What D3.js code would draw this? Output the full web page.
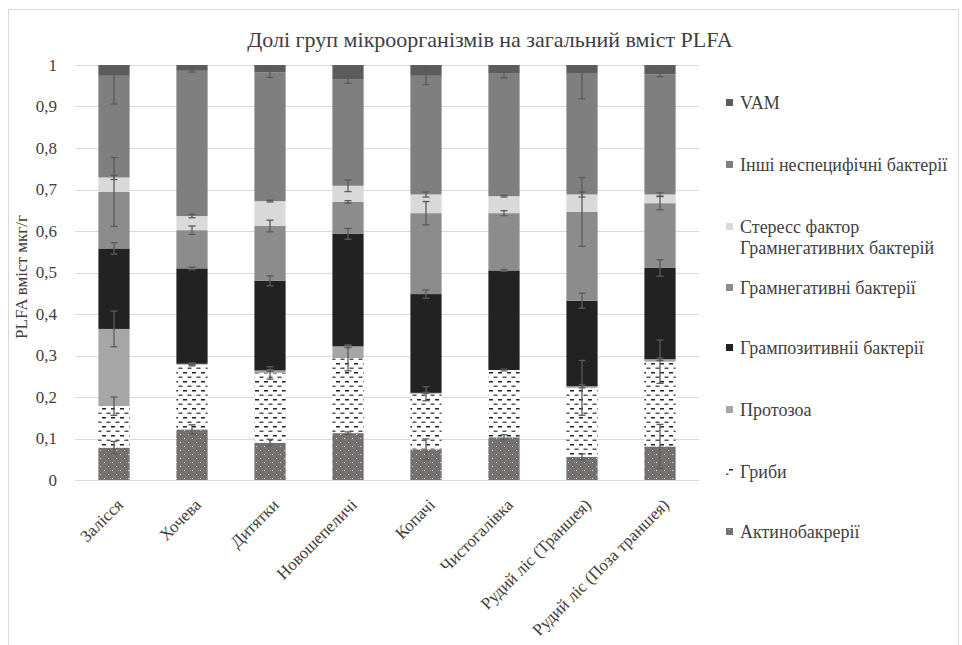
<!DOCTYPE html>
<html>
<head>
<meta charset="utf-8">
<script src="https://cdn.jsdelivr.net/npm/d3@7"></script>
<style>
  body { margin: 0; background: #fff; }
</style>
</head>
<body>
<div class="chart"></div>
<script>
// categories (sites)
var sites = ["Залісся", "Хочева", "Дитятки", "Новошепеличі", "Копачі",
    "Чистогалівка", "Рудий ліс (Траншея)", "Рудий ліс (Поза траншея)"];

// share of each group, bottom to top
var actino   = [0.078, 0.122, 0.090, 0.113, 0.074, 0.103, 0.056, 0.081];
var fungi    = [0.100, 0.156, 0.168, 0.181, 0.134, 0.162, 0.166, 0.204];
var protozoa = [0.186, 0.002, 0.006, 0.028, 0.002, 0.000, 0.004, 0.006];
var gramPos  = [0.194, 0.230, 0.216, 0.271, 0.238, 0.240, 0.206, 0.220];
var gramNeg  = [0.136, 0.092, 0.132, 0.077, 0.195, 0.138, 0.214, 0.156];
var stress   = [0.035, 0.034, 0.060, 0.039, 0.045, 0.041, 0.042, 0.021];
var others   = [0.245, 0.350, 0.310, 0.257, 0.286, 0.295, 0.291, 0.289];
var vam      = [0.026, 0.014, 0.018, 0.034, 0.026, 0.021, 0.021, 0.023];

// error (+/-) shown at the top of each segment
var actinoErr   = [0.015, 0.011, 0.008, 0.003, 0.025, 0.006, 0.007, 0.053];
var fungiErr    = [0.022, 0.003, 0.015, 0.031, 0.017, 0.002, 0.066, 0.052];
var protozoaErr = [0.043, 0.002, 0.002, 0.003, 0.001, 0.000, 0.004, 0.003];
var gramPosErr  = [0.014, 0.003, 0.012, 0.013, 0.010, 0.002, 0.018, 0.020];
var gramNegErr  = [0.083, 0.010, 0.014, 0.003, 0.028, 0.006, 0.083, 0.016];
var stressErr   = [0.005, 0.004, 0.002, 0.014, 0.006, 0.002, 0.006, 0.004];
var othersErr   = [0.068, 0.003, 0.012, 0.010, 0.021, 0.010, 0.060, 0.005];
var vamErr      = [0, 0, 0, 0, 0, 0, 0, 0];

var yTicks = [0, 0.1, 0.2, 0.3, 0.4, 0.5, 0.6, 0.7, 0.8, 0.9, 1];

var series = [
    { key: "actino",   name: "Актинобакрерії", values: actino, err: actinoErr, fill: "url(#dots)" },
    { key: "fungi",    name: "Гриби", values: fungi, err: fungiErr, fill: "url(#dashes)" },
    { key: "protozoa", name: "Протозоа", values: protozoa, err: protozoaErr, fill: "#a6a6a6" },
    { key: "gramPos",  name: "Грампозитивніі бактерії", values: gramPos, err: gramPosErr, fill: "#222222" },
    { key: "gramNeg",  name: "Грамнегативні бактерії", values: gramNeg, err: gramNegErr, fill: "#8c8c8c" },
    { key: "stress",   name: ["Стересс фактор", "Грамнегативних бактерій"], values: stress, err: stressErr, fill: "#d9d9d9" },
    { key: "others",   name: "Інші неспецифічні бактерії", values: others, err: othersErr, fill: "#7f7f7f" },
    { key: "vam",      name: "VAM", values: vam, err: vamErr, fill: "#5c5c5c" }
];

var serif = "'Liberation Serif', 'DejaVu Serif', 'Times New Roman', serif";

// SVG size, margin
var svgWidth = 962;
var svgHeight = 645;
var margin = { top: 65, right: 263, bottom: 165, left: 75 };
var width = svgWidth - margin.left - margin.right;
var height = svgHeight - margin.top - margin.bottom;

var svg = d3.select(".chart")
    .append("svg")
    .attr("width", svgWidth)
    .attr("height", svgHeight)
    .style("font-family", serif);

// patterns for the two hatched series
var defs = svg.append("defs");
var dots = defs.append("pattern")
    .attr("id", "dots")
    .attr("patternUnits", "userSpaceOnUse")
    .attr("width", 8).attr("height", 8);
dots.append("rect").attr("width", 8).attr("height", 8).attr("fill", "#767171");
dots.append("rect").attr("x", 1).attr("y", 1).attr("width", 1).attr("height", 1).attr("fill", "#d9d9d9");
dots.append("rect").attr("x", 5).attr("y", 5).attr("width", 1).attr("height", 1).attr("fill", "#d9d9d9");

var dashes = defs.append("pattern")
    .attr("id", "dashes")
    .attr("patternUnits", "userSpaceOnUse")
    .attr("width", 9).attr("height", 9);
dashes.append("rect").attr("width", 9).attr("height", 9).attr("fill", "#fff");
dashes.append("rect").attr("x", 0).attr("y", 1).attr("width", 4).attr("height", 1.5).attr("fill", "#222");
dashes.append("rect").attr("x", 4.5).attr("y", 5.5).attr("width", 4).attr("height", 1.5).attr("fill", "#555");

// chart border
svg.append("rect")
    .attr("x", 8.5).attr("y", 9.5)
    .attr("width", 950).attr("height", 650)
    .attr("fill", "none")
    .attr("stroke", "#d9d9d9");

var chartGroup = svg.append("g")
    .attr("transform", `translate(${margin.left}, ${margin.top})`);

// scales
var xBandScale = d3.scaleBand()
    .domain(sites)
    .range([0, width])
    .paddingInner(0.6)
    .paddingOuter(0.3);

var yLinearScale = d3.scaleLinear()
    .domain([0, 1])
    .range([height, 0]);

// gridlines
chartGroup.append("g")
    .selectAll("line")
    .data(yTicks)
    .enter()
    .append("line")
    .attr("x1", 0)
    .attr("x2", width)
    .attr("y1", d => Math.round(yLinearScale(d)) + 0.5)
    .attr("y2", d => Math.round(yLinearScale(d)) + 0.5)
    .attr("stroke", "#d9d9d9")
    .attr("stroke-width", 1);

// y axis labels
var leftAxis = d3.axisLeft(yLinearScale)
    .tickValues(yTicks)
    .tickSize(0)
    .tickPadding(18)
    .tickFormat(d => d3.format(".1~f")(d).replace(".", ","));

var yAxis = chartGroup.append("g").call(leftAxis);
yAxis.attr("font-family", serif);
yAxis.select(".domain").remove();
yAxis.selectAll("text")
    .style("font-size", "17px")
    .attr("fill", "#404040");

// x axis labels, rotated
var bottomAxis = d3.axisBottom(xBandScale).tickSize(0).tickPadding(0);
var xAxis = chartGroup.append("g")
    .attr("transform", `translate(0, ${height})`)
    .call(bottomAxis);
xAxis.attr("font-family", serif);
xAxis.select(".domain").remove();
xAxis.selectAll("text")
    .style("font-size", "17px")
    .attr("fill", "#404040")
    .attr("text-anchor", "end")
    .attr("dy", null)
    .attr("y", 0)
    .attr("transform", "translate(10, 26) rotate(-45)");

// stacked data
var rows = sites.map(function(site, i) {
    var row = { site: site };
    series.forEach(function(s) { row[s.key] = s.values[i]; });
    return row;
});
var stacked = d3.stack().keys(series.map(s => s.key))(rows);

// bars
var layers = chartGroup.selectAll(".layer")
    .data(stacked)
    .enter()
    .append("g")
    .attr("class", "layer")
    .attr("fill", (d, i) => series[i].fill);

layers.selectAll("rect")
    .data(d => d)
    .enter()
    .append("rect")
    .attr("x", d => xBandScale(d.data.site))
    .attr("y", d => yLinearScale(d[1]))
    .attr("width", xBandScale.bandwidth())
    .attr("height", d => yLinearScale(d[0]) - yLinearScale(d[1]));

// error bars on top of each segment
var errData = [];
stacked.forEach(function(layer, li) {
    layer.forEach(function(d, i) {
        var e = series[li].err[i];
        if (e > 0) {
            errData.push({
                site: d.data.site,
                lo: Math.max(0, d[1] - e),
                hi: Math.min(1, d[1] + e),
                clipHi: d[1] + e > 1
            });
        }
    });
});

var errGroup = chartGroup.append("g")
    .attr("stroke", "#5a5a5a")
    .attr("stroke-width", 1.3);
var capW = 3.5;
errData.forEach(function(e) {
    var cx = xBandScale(e.site) + xBandScale.bandwidth() / 2;
    errGroup.append("line")
        .attr("x1", cx).attr("x2", cx)
        .attr("y1", yLinearScale(e.lo)).attr("y2", yLinearScale(e.hi));
    errGroup.append("line")
        .attr("x1", cx - capW).attr("x2", cx + capW)
        .attr("y1", yLinearScale(e.lo)).attr("y2", yLinearScale(e.lo));
    if (!e.clipHi) {
        errGroup.append("line")
            .attr("x1", cx - capW).attr("x2", cx + capW)
            .attr("y1", yLinearScale(e.hi)).attr("y2", yLinearScale(e.hi));
    }
});

// title
svg.append("text")
    .attr("x", 490)
    .attr("y", 47)
    .attr("text-anchor", "middle")
    .attr("fill", "#404040")
    .style("font-size", "22px")
    .text("Долі груп мікроорганізмів на загальний вміст PLFA");

// y axis title
svg.append("text")
    .attr("transform", "rotate(-90)")
    .attr("x", -277)
    .attr("y", 27)
    .attr("text-anchor", "middle")
    .attr("fill", "#404040")
    .style("font-size", "17px")
    .text("PLFA вміст мкг/г");

// legend, top entry is VAM
var legendY = [103, 165, 227, 288, 348, 410, 472, 532];
var legendSeries = series.slice().reverse();
var legend = svg.append("g");
legendSeries.forEach(function(s, i) {
    var ly = legendY[i];
    legend.append("rect")
        .attr("x", 726).attr("y", ly - 4)
        .attr("width", 7).attr("height", 7)
        .attr("fill", s.fill);
    var names = Array.isArray(s.name) ? s.name : [s.name];
    names.forEach(function(n, j) {
        legend.append("text")
            .attr("x", 740)
            .attr("y", ly + 6 + j * 21)
            .attr("fill", "#404040")
            .style("font-size", "18px")
            .text(n);
    });
});
</script>
</body>
</html>
